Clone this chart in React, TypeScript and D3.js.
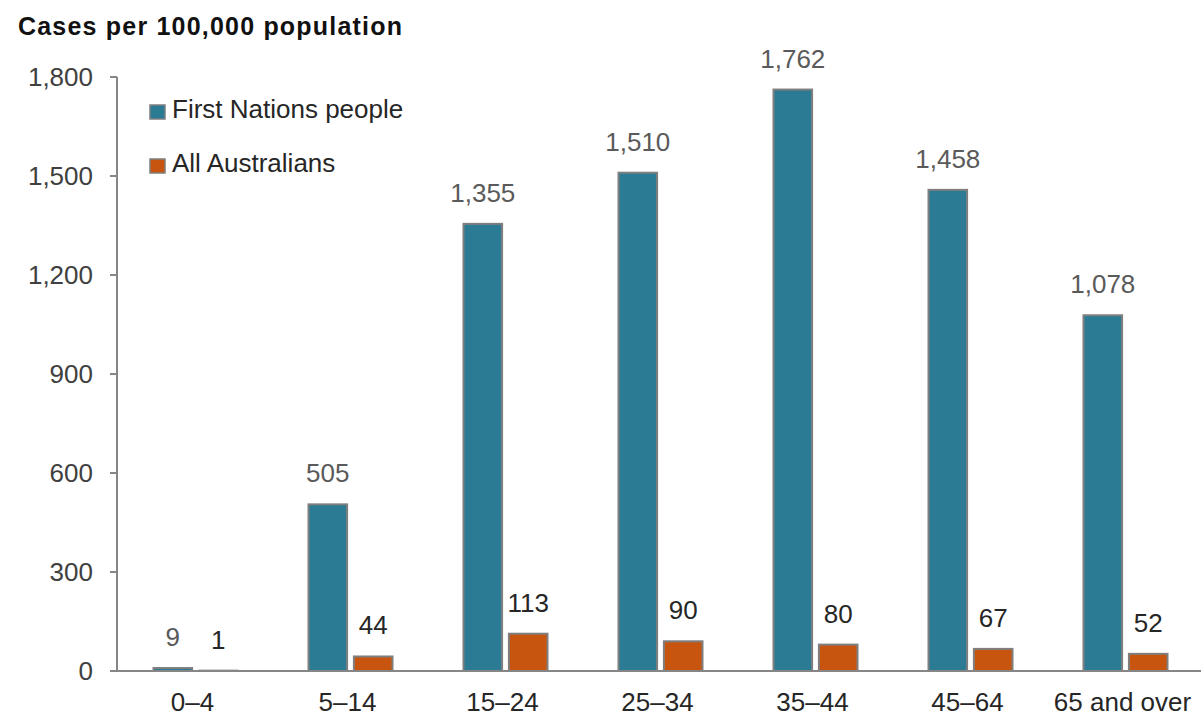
import React from "react";
import * as d3 from "d3";

const categories = ["0–4", "5–14", "15–24", "25–34", "35–44", "45–64", "65 and over"];
const seriesNames = ["First Nations people", "All Australians"];
const firstNations = [9, 505, 1355, 1510, 1762, 1458, 1078];
const allAustralians = [1, 44, 113, 90, 80, 67, 52];
const yTicks = [0, 300, 600, 900, 1200, 1500, 1800];

const W = 1201;
const H = 718;
const colors = ["#2B7B95", "#C8550F"];
const labelColors = ["#5a5a5a", "#262626"];
const FONT = "'Liberation Sans', Arial, sans-serif";
const FS = 26;

export default function App() {
  const x0 = d3.scaleBand<string>().domain(categories).range([118, 1203]);
  const step = x0.bandwidth();
  const x1 = d3
    .scaleBand<string>()
    .domain(seriesNames)
    .range([step / 2 - 42, step / 2 + 42])
    .paddingInner(0.15);
  const y = d3.scaleLinear().domain([0, 1800]).range([671, 77]);
  const fmt = d3.format(",");
  const values = [firstNations, allAustralians];

  return (
    <svg
      width={W}
      height={H}
      style={{ position: "absolute", left: 0, top: 0, background: "#fff" }}
      fontFamily={FONT}
    >
      <rect width={W} height={H} fill="#fff" />
      <text x={18} y={35} fontSize={25} fontWeight="bold" letterSpacing={1.2} fill="#111">
        Cases per 100,000 population
      </text>

      {/* y axis */}
      <line x1={117} x2={117} y1={y(1800)} y2={y(0)} stroke="#868686" strokeWidth={2} />
      {yTicks.map((t) => (
        <g key={t}>
          <line x1={110} x2={117} y1={y(t)} y2={y(t)} stroke="#868686" strokeWidth={2} />
          <text
            x={93}
            y={y(t)}
            dy="0.35em"
            textAnchor="end"
            fontSize={FS}
            fill="#404040"
          >
            {fmt(t)}
          </text>
        </g>
      ))}

      {/* bars */}
      {categories.map((c, i) => (
        <g key={c} transform={`translate(${x0(c)},0)`}>
          {seriesNames.map((s, k) => {
            const v = values[k][i];
            const bx = x1(s)!;
            const bw = x1.bandwidth();
            return (
              <g key={s}>
                <rect
                  x={bx}
                  y={y(v)}
                  width={bw}
                  height={Math.max(0, y(0) - y(v))}
                  fill={colors[k]}
                  stroke="#7f7f7f"
                  strokeWidth={2}
                />
                <text
                  x={bx + bw / 2}
                  y={y(v) - 22}
                  textAnchor="middle"
                  fontSize={FS}
                  fill={labelColors[k]}
                >
                  {fmt(v)}
                </text>
              </g>
            );
          })}
          <text
            x={step / 2 - 3}
            y={711}
            textAnchor="middle"
            fontSize={FS}
            fill="#262626"
          >
            {c}
          </text>
        </g>
      ))}

      {/* x axis baseline */}
      <line x1={110} x2={W} y1={y(0)} y2={y(0)} stroke="#868686" strokeWidth={2} />

      {/* legend */}
      {seriesNames.map((s, k) => (
        <g key={s} transform={`translate(150,${105 + k * 54})`}>
          <rect x={0} y={0} width={15} height={14} fill={colors[k]} stroke="#7f7f7f" strokeWidth={1.5} />
          <text x={22} y={13} fontSize={FS} fill="#262626">
            {s}
          </text>
        </g>
      ))}
    </svg>
  );
}
